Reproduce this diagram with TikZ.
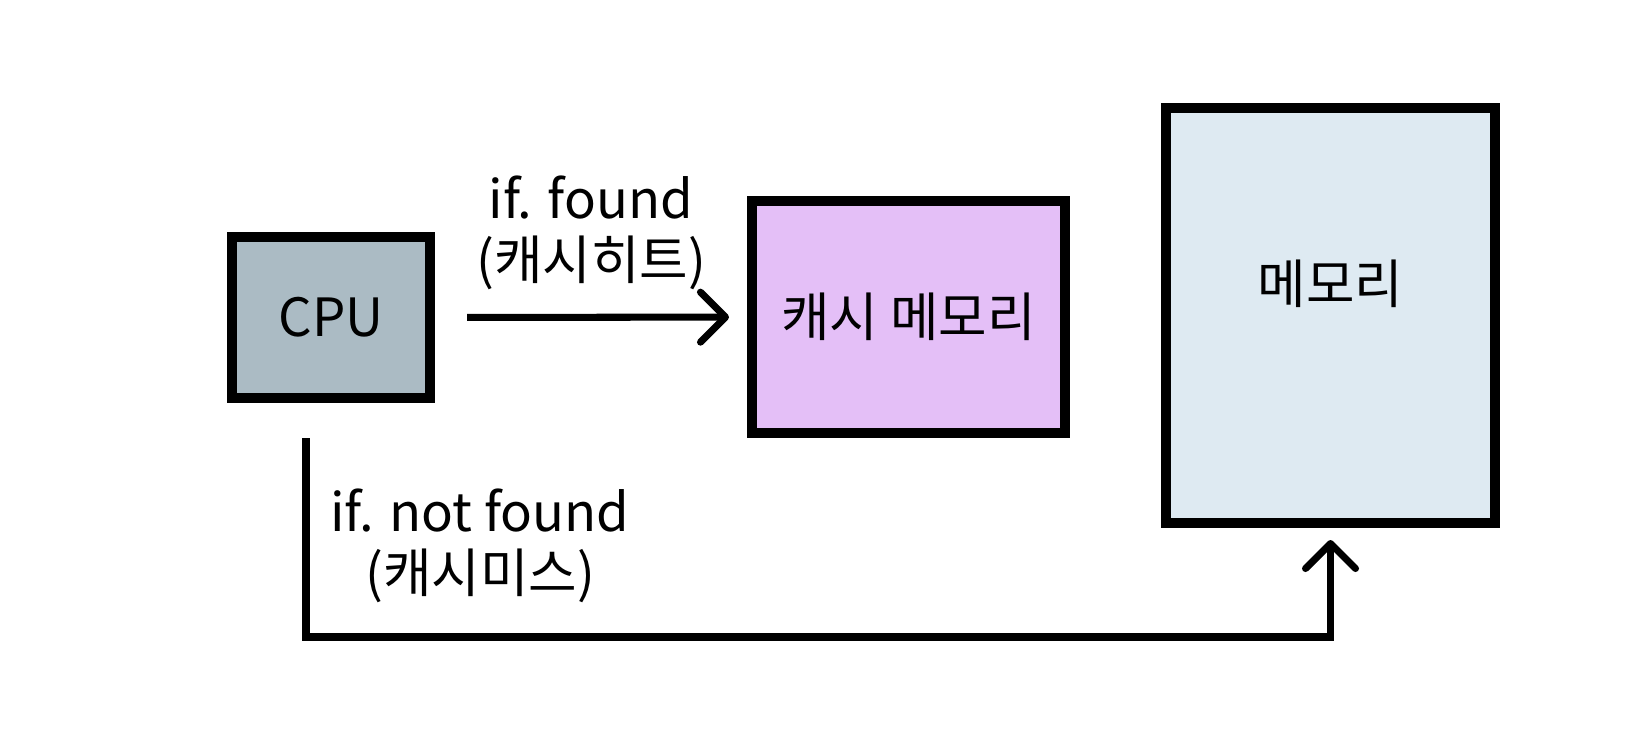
\documentclass[tikz,border=0pt]{standalone}
\usepackage{fontspec}
\setmainfont{Noto Sans CJK KR}
\usetikzlibrary{arrows.meta}

\definecolor{cpugray}{HTML}{ABBBC4}
\definecolor{cachepink}{HTML}{E4BFF7}
\definecolor{memblue}{HTML}{DEEAF2}

\begin{document}
\begin{tikzpicture}[font=\fontsize{15}{17.5}\selectfont, >={Straight Barb[round,length=2.5mm,width=5mm]}]

    \useasboundingbox (0,0) rectangle (16.34,7.36);

    \begin{scope}[every node/.style={rectangle,draw,line width=2.85pt}]
        \node[fill=cpugray,minimum width=1.98cm,minimum height=1.61cm] (cpu) at (3.31,4.185) {CPU};
        \node[fill=cachepink,minimum width=3.13cm,minimum height=2.32cm] (cache) at (9.085,4.19) {캐시 메모리};
        \node[fill=memblue,minimum width=3.29cm,minimum height=4.15cm,label={[draw=none,fill=none,yshift=3.2mm]center:메모리}] (mem) at (13.305,4.205) {};
    \end{scope}

    \begin{scope}[every node/.style={align=center}, every edge/.style={draw,line width=2pt}]
        \path [->] (cpu) edge [shorten <=3.2mm,shorten >=1.8mm] node[above=1.2mm] {if. found\\(캐시히트)} (cache);
        \draw [->,line width=2pt] ([xshift=-2.5mm,yshift=-3.5mm]cpu.south) -- ++(0,-1.99) -| ([yshift=-1.2mm]mem.south);
        \node (miss) at (4.80,1.90) {if. not found\\(캐시미스)}; % cache miss %
    \end{scope}

\end{tikzpicture}
\end{document}
